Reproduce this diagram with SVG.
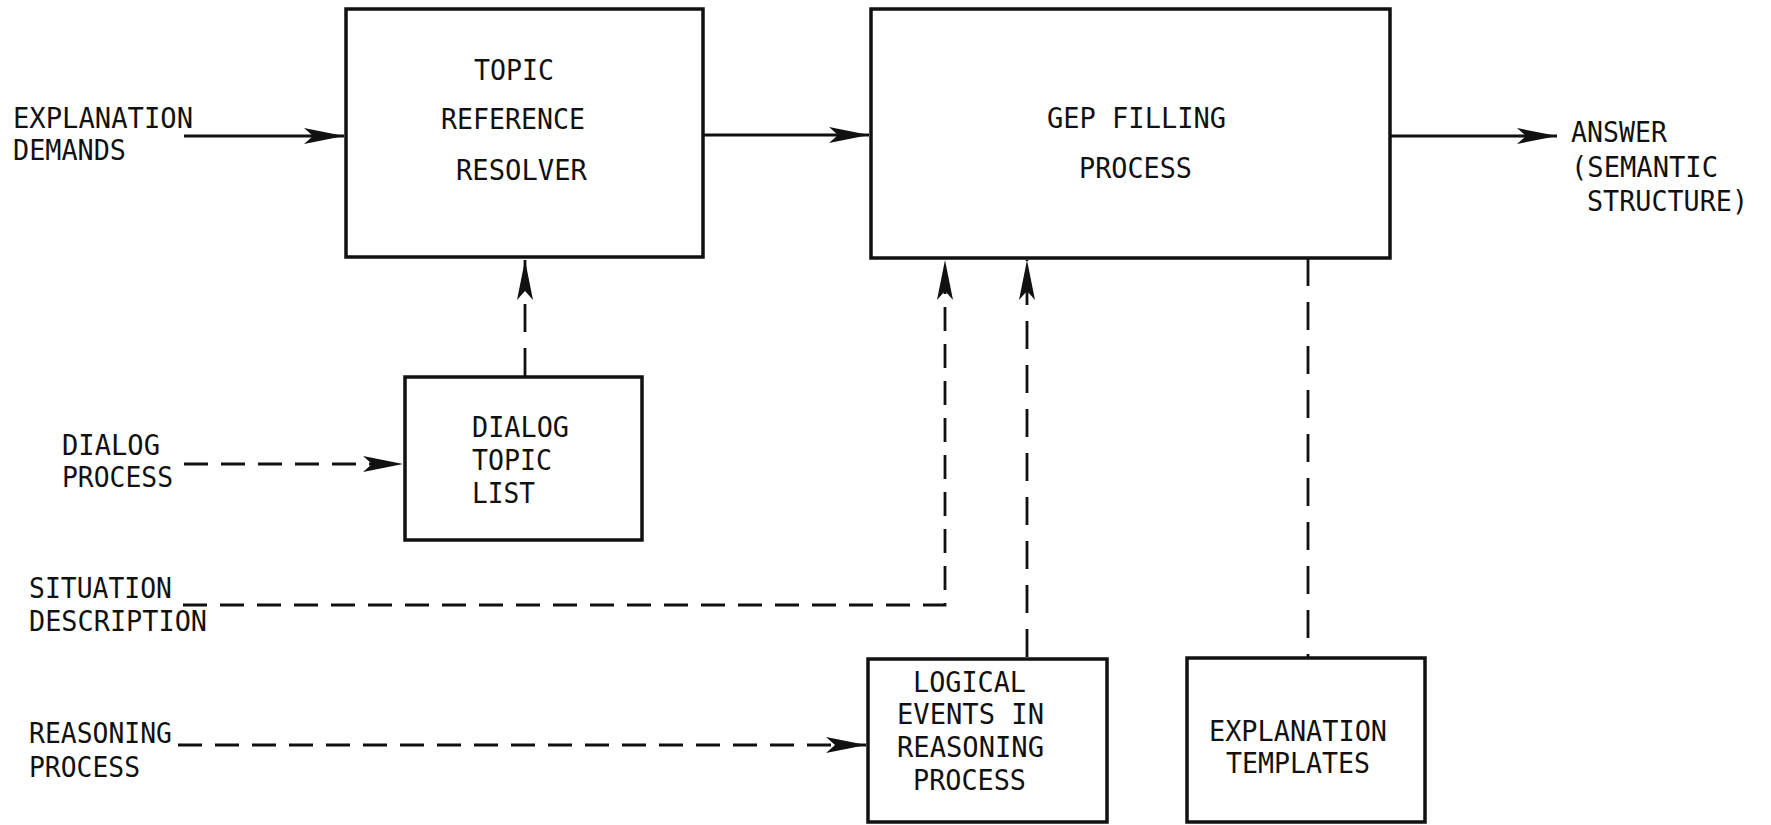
<svg xmlns="http://www.w3.org/2000/svg" width="1771" height="825" viewBox="0 0 1771 825">
  <style>
    .box { fill: none; stroke: #111; stroke-width: 3.5; }
    .flow { fill: none; stroke: #111; stroke-width: 2.8; }
    .dash { fill: none; stroke: #111; stroke-width: 2.8; stroke-dasharray: 24 13; }
    .vdash { fill: none; stroke: #111; stroke-width: 2.8; stroke-dasharray: 28 16; }
    text { font-family: "DejaVu Sans Mono", "Liberation Mono", monospace; font-size: 29px; fill: #111; }
  </style>
  <defs>
    <marker id="head" markerUnits="userSpaceOnUse" markerWidth="44" markerHeight="20" viewBox="-42 -10 44 20" refX="0" refY="0" orient="auto">
      <path d="M0 0 L-40 -8 L-31 0 L-40 8 Z" fill="#111"/>
    </marker>
  </defs>
  <rect width="1771" height="825" fill="#fff"/>

  <!-- connectors -->
  <g id="connectors">
    <path class="flow" d="M184 136 H344" marker-end="url(#head)"/>
    <path class="flow" d="M703 135 H869" marker-end="url(#head)"/>
    <path class="flow" d="M1390 136 H1557" marker-end="url(#head)"/>
    <path class="dash" d="M184 464 H403" marker-end="url(#head)"/>
    <path class="vdash" d="M525 376 V260" marker-end="url(#head)"/>
    <path class="dash" d="M183 605 H945 V260" marker-end="url(#head)"/>
    <path class="vdash" d="M1027 657 V260" marker-end="url(#head)"/>
    <path class="vdash" d="M1308 258 V657"/>
    <path class="dash" d="M178 745 H866" marker-end="url(#head)"/>
  </g>

  <!-- inputs and output labels -->
  <g id="explanation-demands">
    <text x="13" y="128" textLength="180" lengthAdjust="spacingAndGlyphs">EXPLANATION</text>
    <text x="13" y="160" textLength="113" lengthAdjust="spacingAndGlyphs">DEMANDS</text>
  </g>
  <g id="answer">
    <text x="1571" y="142" textLength="96" lengthAdjust="spacingAndGlyphs">ANSWER</text>
    <text x="1571" y="177" textLength="147" lengthAdjust="spacingAndGlyphs">(SEMANTIC</text>
    <text x="1587" y="211" textLength="161" lengthAdjust="spacingAndGlyphs">STRUCTURE)</text>
  </g>
  <g id="dialog-process">
    <text x="62" y="455" textLength="98" lengthAdjust="spacingAndGlyphs">DIALOG</text>
    <text x="62" y="487" textLength="111" lengthAdjust="spacingAndGlyphs">PROCESS</text>
  </g>
  <g id="situation-description">
    <text x="29" y="598" textLength="143" lengthAdjust="spacingAndGlyphs">SITUATION</text>
    <text x="29" y="631" textLength="178" lengthAdjust="spacingAndGlyphs">DESCRIPTION</text>
  </g>
  <g id="reasoning-process">
    <text x="29" y="743" textLength="143" lengthAdjust="spacingAndGlyphs">REASONING</text>
    <text x="29" y="777" textLength="111" lengthAdjust="spacingAndGlyphs">PROCESS</text>
  </g>

  <!-- process boxes -->
  <g id="topic-reference-resolver">
    <rect class="box" x="346" y="9" width="357" height="248"/>
    <text x="474" y="80" textLength="80" lengthAdjust="spacingAndGlyphs">TOPIC</text>
    <text x="441" y="129" textLength="144" lengthAdjust="spacingAndGlyphs">REFERENCE</text>
    <text x="456" y="180" textLength="131" lengthAdjust="spacingAndGlyphs">RESOLVER</text>
  </g>
  <g id="gep-filling-process">
    <rect class="box" x="871" y="9" width="519" height="249"/>
    <text x="1047" y="128" textLength="179" lengthAdjust="spacingAndGlyphs">GEP FILLING</text>
    <text x="1079" y="178" textLength="113" lengthAdjust="spacingAndGlyphs">PROCESS</text>
  </g>
  <g id="dialog-topic-list">
    <rect class="box" x="405" y="377" width="237" height="163"/>
    <text x="472" y="437" textLength="97" lengthAdjust="spacingAndGlyphs">DIALOG</text>
    <text x="472" y="470" textLength="80" lengthAdjust="spacingAndGlyphs">TOPIC</text>
    <text x="472" y="503" textLength="63" lengthAdjust="spacingAndGlyphs">LIST</text>
  </g>
  <g id="logical-events">
    <rect class="box" x="868" y="659" width="239" height="163"/>
    <text x="913" y="692" textLength="113" lengthAdjust="spacingAndGlyphs">LOGICAL</text>
    <text x="897" y="724" textLength="147" lengthAdjust="spacingAndGlyphs">EVENTS IN</text>
    <text x="897" y="757" textLength="147" lengthAdjust="spacingAndGlyphs">REASONING</text>
    <text x="913" y="790" textLength="113" lengthAdjust="spacingAndGlyphs">PROCESS</text>
  </g>
  <g id="explanation-templates">
    <rect class="box" x="1187" y="658" width="238" height="164"/>
    <text x="1209" y="741" textLength="178" lengthAdjust="spacingAndGlyphs">EXPLANATION</text>
    <text x="1226" y="773" textLength="144" lengthAdjust="spacingAndGlyphs">TEMPLATES</text>
  </g>
</svg>
